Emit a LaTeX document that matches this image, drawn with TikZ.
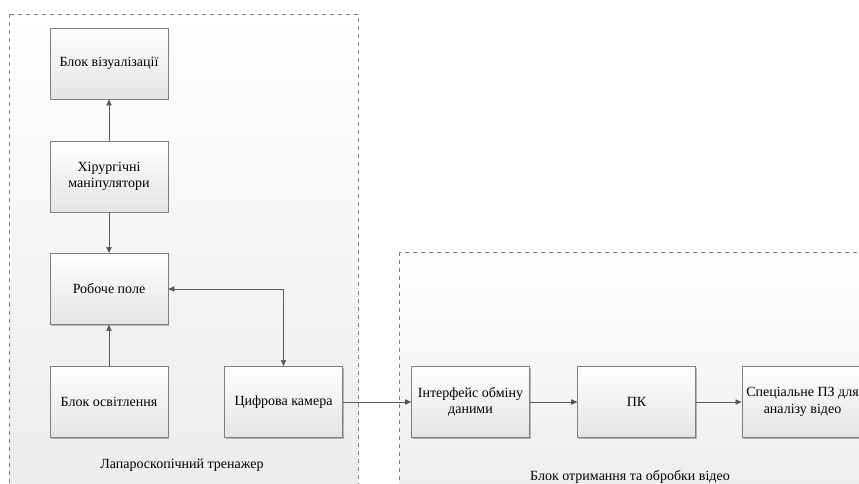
\documentclass[tikz,border=0pt]{standalone}
\usepackage{fontspec}
\setmainfont{Liberation Serif}
\newfontfamily\timescyr{Liberation Serif}
\usepackage{tikz}
\usetikzlibrary{positioning}
\usetikzlibrary{arrows.meta}
\usetikzlibrary{shadows}
\usepackage{xcolor}

\definecolor{edgegray}{HTML}{7F7F7F}
\definecolor{fillgray}{HTML}{E4E4E4}
\definecolor{groupgray}{HTML}{EBEBEB}
\definecolor{linegray}{HTML}{595959}

\begin{document}
\begin{tikzpicture}[
  x=0.75pt, y=-0.75pt,
  font=\timescyr\fontsize{10.5}{12.5}\selectfont,
  group/.style={draw=edgegray, dashed, top color=white, bottom color=groupgray},
  block/.style={draw=edgegray, align=center, minimum width=88.5pt, minimum height=53.5pt,
    top color=white, bottom color=fillgray,
    drop shadow={shadow xshift=1pt, shadow yshift=-1pt, opacity=0.25, fill=black}},
  arrow/.style={-{Triangle[length=4.5pt, width=4pt]}, draw=linegray},
  biarrow/.style={{Triangle[length=4.5pt, width=4pt]}-{Triangle[length=4.5pt, width=4pt]}, draw=linegray}
]

\useasboundingbox (0,0) rectangle (859,484);
\clip (0,0) rectangle (859,484);

% Groups
\draw[group] (9,14.5) rectangle (358,520);
\draw[group] (399,252) rectangle (900,520);

% Laparoscopic trainer
\node[block] (vis)    at (109,63.5)  {Блок візуалізації};
\node[block] (manip)  at (109,176.5) {Хірургічні\\маніпулятори};
\node[block] (field)  at (109,289)   {Робоче поле};
\node[block] (light)  at (109,402)   {Блок освітлення};
\node[block] (camera) at (283.5,402) {Цифрова камера};

% Video processing
\node[block] (iface) at (470.5,402) {Інтерфейс обміну\\даними};
\node[block] (pc)    at (636.5,402) {ПК};
\node[block] (soft)  at (802.5,402) {Спеціальне ПЗ для\\аналізу відео};

% Group labels
\node (trainer) at (182,465) {Лапароскопічний тренажер};
\node (video)   at (630,477) {Блок отримання та обробки відео};

% Arrows
\draw[arrow] (manip) -- (vis);
\draw[arrow] (manip) -- (field);
\draw[arrow] (light) -- (field);
\draw[biarrow] (field.east) -| (camera.north);
\draw[arrow] (camera) -- (iface);
\draw[arrow] (iface) -- (pc);
\draw[arrow] (pc) -- (soft);

\end{tikzpicture}
\end{document}
